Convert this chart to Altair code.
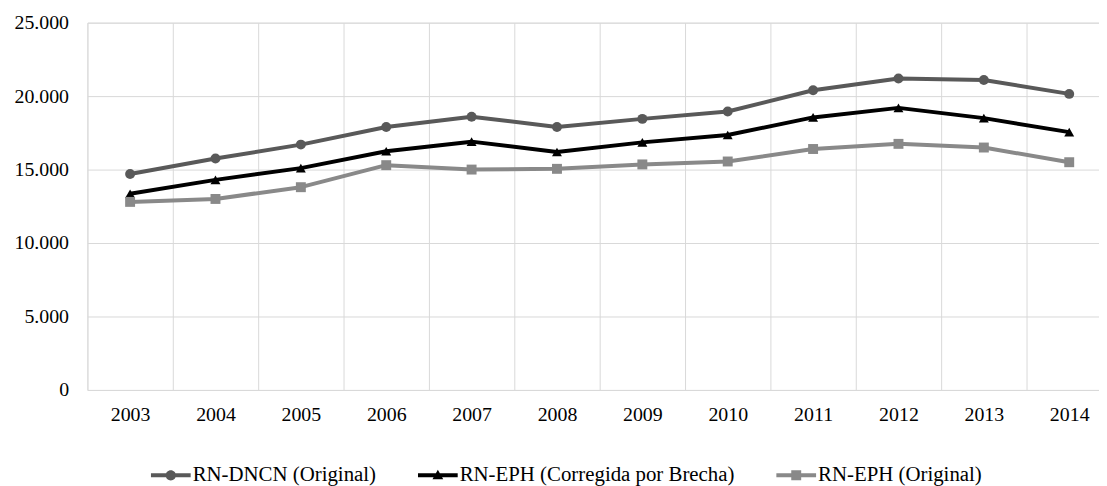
import altair as alt
import pandas as pd

years = ["2003", "2004", "2005", "2006", "2007", "2008", "2009", "2010", "2011", "2012", "2013", "2014"]
series_names = ["RN-DNCN (Original)", "RN-EPH (Corregida por Brecha)", "RN-EPH (Original)"]
dncn = [14700, 15750, 16700, 17900, 18600, 17900, 18450, 18950, 20400, 21200, 21100, 20150]
eph_corr = [13350, 14300, 15100, 16250, 16900, 16200, 16850, 17350, 18550, 19200, 18500, 17550]
eph_orig = [12800, 13000, 13800, 15300, 15000, 15050, 15350, 15550, 16400, 16750, 16500, 15500]
y_ticks = [0, 5000, 10000, 15000, 20000, 25000]

colors = ["#595959", "#000000", "#898989"]
shapes = ["circle", "triangle-up", "square"]
legend_paths = [
    "M-1,-0.1L1,-0.1L1,0.1L-1,0.1Z M-0.26,0A0.26,0.26 0 1,1 0.26,0A0.26,0.26 0 1,1 -0.26,0Z",
    "M-1,-0.1L1,-0.1L1,0.1L-1,0.1Z M0,-0.28L0.27,0.2L-0.27,0.2Z",
    "M-1,-0.1L1,-0.1L1,0.1L-1,0.1Z M-0.25,-0.25L0.25,-0.25L0.25,0.25L-0.25,0.25Z",
]

rows = []
for name, vals in zip(series_names, [dncn, eph_corr, eph_orig]):
    for yr, v in zip(years, vals):
        rows.append({"year": yr, "value": v, "series": name})
df = pd.DataFrame(rows)

FONT = "Liberation Serif"

x_enc = alt.X(
    "year:O",
    sort=years,
    scale=alt.Scale(type="band", range=[0, 1032], paddingInner=0, paddingOuter=0),
    axis=alt.Axis(
        title=None, domain=False, ticks=False, tickSize=0, tickBand="extent",
        grid=True, gridColor="#d9d9d9", gridWidth=1,
        labelFont=FONT, labelFontSize=20, labelColor="#000000",
        labelPadding=15, labelAngle=0,
    ),
)
y_enc = alt.Y(
    "value:Q",
    scale=alt.Scale(domain=[0, 25000], nice=False),
    axis=alt.Axis(
        title=None, domain=False, ticks=False, tickSize=0, values=y_ticks,
        grid=True, gridColor="#d9d9d9", gridWidth=1,
        labelFont=FONT, labelFontSize=20, labelColor="#000000",
        labelPadding=19,
        labelExpr="replace(format(datum.value, ','), ',', '.')",
    ),
)
color_scale = alt.Scale(domain=series_names, range=colors)

base = alt.Chart(df)

lines = base.mark_line(strokeWidth=4, strokeJoin="round").encode(
    x=x_enc, y=y_enc,
    color=alt.Color("series:N", scale=color_scale, legend=None),
    detail="series:N",
)

points = base.mark_point(filled=True, size=100, opacity=1).encode(
    x=x_enc, y=y_enc,
    color=alt.Color("series:N", scale=color_scale, legend=None),
    shape=alt.Shape("series:N", scale=alt.Scale(domain=series_names, range=shapes), legend=None),
)

legend_props = dict(
    title=None, orient="none", direction="horizontal", columns=3,
    legendX=64, legendY=436, padding=0,
    labelFont=FONT, labelFontSize=21, labelColor="#000000", labelLimit=600,
    symbolSize=1600, symbolStrokeWidth=0, labelOffset=2, columnPadding=42,
)

legend_layer = base.transform_filter("false").mark_point(filled=True, opacity=1).encode(
    x=x_enc, y=y_enc,
    color=alt.Color("series:N", scale=color_scale, legend=alt.Legend(**legend_props)),
    shape=alt.Shape(
        "series:N", scale=alt.Scale(domain=series_names, range=legend_paths),
        legend=alt.Legend(**legend_props),
    ),
)

chart = alt.layer(lines, points, legend_layer).resolve_scale(
    color="independent", shape="independent"
).properties(
    width=1019,
    height=370,
    autosize=alt.AutoSizeParams(type="none"),
    padding={"left": 80, "top": 13, "right": 0, "bottom": 95},
).configure_view(stroke=None).configure(
    background="#ffffff", font=FONT
).configure_axis(labelFont=FONT).configure_legend(labelFont=FONT)

chart.save("out.html", embed_options={"renderer": "svg", "actions": False})
